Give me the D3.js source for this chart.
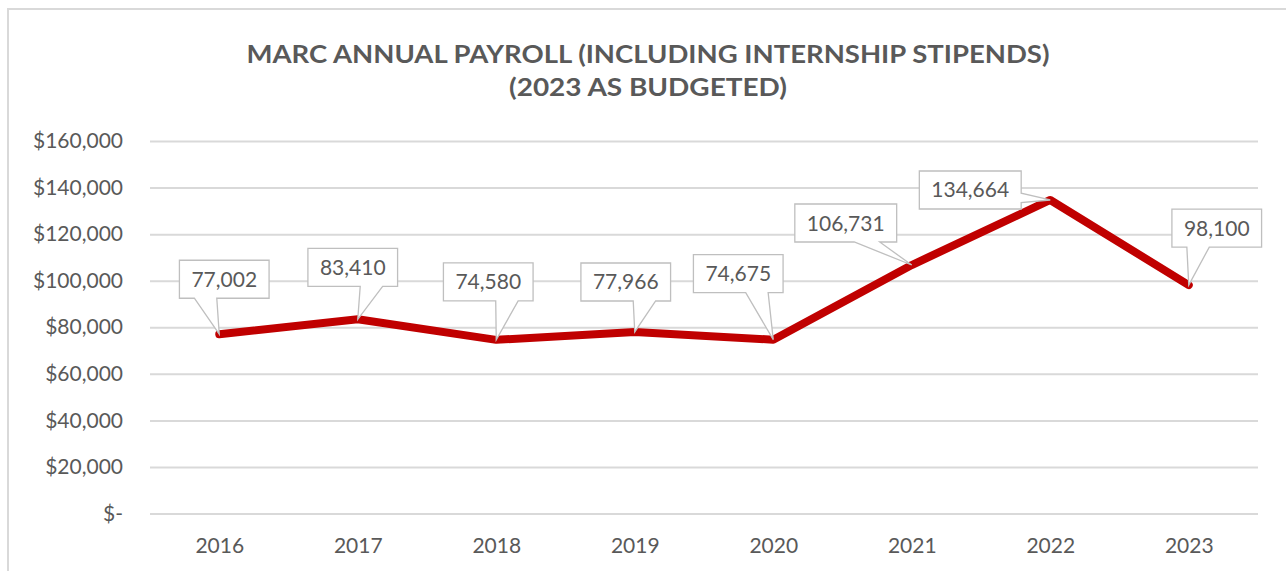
<!DOCTYPE html>
<html>
<head>
<meta charset="utf-8">
<script src="https://cdn.jsdelivr.net/npm/d3@7"></script>
<style>
  html, body { margin: 0; padding: 0; background: #fff; }
  svg { display: block; }
  text { font-family: Lato, "Liberation Sans", sans-serif; fill: #595959; }
</style>
</head>
<body>
<svg width="1286" height="571"></svg>
<script>
// payroll per year, 2023 is the budget figure
var years = ["2016", "2017", "2018", "2019", "2020", "2021", "2022", "2023"];
var payroll = [77002, 83410, 74580, 77966, 74675, 106731, 134664, 98100];
var yTicks = [0, 20000, 40000, 60000, 80000, 100000, 120000, 140000, 160000];
var titleLines = ["MARC ANNUAL PAYROLL (INCLUDING INTERNSHIP STIPENDS)", "(2023 AS BUDGETED)"];

// where each callout box sits relative to its point (layout only)
var calloutShift = [[5, -55], [-5, -52], [-8, -58], [-9, -50], [-35, -66], [-66, -42], [-80, -10], [28, -57]];

var svg = d3.select("svg"),
	width = +svg.attr("width"),
	height = +svg.attr("height");

// chart frame
svg.append("rect")
	.attr("x", 8).attr("y", 9)
	.attr("width", width + 20).attr("height", height + 20)
	.attr("fill", "#fff")
	.attr("stroke", "#d9d9d9")
	.attr("stroke-width", 2);

var x = d3.scalePoint().domain(years).range([150, 1258]).padding(0.5);
var y = d3.scaleLinear().domain([0, 160000]).range([513.5, 141]);

// title
svg.selectAll(".title")
	.data(titleLines)
	.enter().append("text")
	.attr("class", "title")
	.attr("x", 648)
	.attr("y", function(d, i) { return 63 + i * 33; })
	.attr("text-anchor", "middle")
	.attr("textLength", function(d, i) { return i == 0 ? 803 : 278; })
	.attr("lengthAdjust", "spacingAndGlyphs")
	.style("font-size", "25px")
	.style("font-weight", "bold")
	.text(function(d) { return d; });

// gridlines + y labels
var fmt = d3.format(",");
var yAxis = d3.axisLeft(y)
	.tickValues(yTicks)
	.tickSize(-(1258 - 150))
	.tickPadding(27)
	.tickFormat(function(d) { return d == 0 ? "$-" : "$" + fmt(d); });

var gy = svg.append("g").attr("transform", "translate(150,0)").call(yAxis);
gy.select(".domain").remove();
gy.selectAll(".tick line").attr("stroke", "#d9d9d9").attr("stroke-width", 2);
gy.selectAll(".tick text")
	.attr("fill", "#595959")
	.style("font-size", "21px")
	.style("font-family", "Lato, 'Liberation Sans', sans-serif");

// x labels
var xAxis = d3.axisBottom(x).tickSize(0).tickPadding(0);
var gx = svg.append("g").attr("transform", "translate(0,513.5)").call(xAxis);
gx.select(".domain").remove();
gx.selectAll(".tick text")
	.attr("dy", null)
	.attr("y", 39)
	.attr("fill", "#595959")
	.style("font-size", "21px")
	.style("font-family", "Lato, 'Liberation Sans', sans-serif");

// the series line
var line = d3.line()
	.x(function(d, i) { return x(years[i]); })
	.y(function(d) { return y(d); });

svg.append("path")
	.datum(payroll)
	.attr("d", line)
	.attr("fill", "none")
	.attr("stroke", "#c00000")
	.attr("stroke-width", 8)
	.attr("stroke-linecap", "round")
	.attr("stroke-linejoin", "round");

// callout path like Office "wedgeRectCallout"
function calloutPath(l, t, w, h, px, py) {
	var r = l + w, b = t + h, cx = l + w / 2, cy = t + h / 2;
	var dx = px - cx, dy = py - cy;
	var dq = dx * h / w;
	var p = "M" + l + "," + t;
	if (Math.abs(dq) > Math.abs(dy)) {
		var y1 = dy > 0 ? t + h * 7 / 12 : t + h * 2 / 12,
			y2 = dy > 0 ? t + h * 10 / 12 : t + h * 5 / 12;
		if (dx > 0) {
			p += "L" + r + "," + t + "L" + r + "," + y1 + "L" + px + "," + py + "L" + r + "," + y2
				+ "L" + r + "," + b + "L" + l + "," + b + "Z";
		} else {
			p += "L" + r + "," + t + "L" + r + "," + b + "L" + l + "," + b
				+ "L" + l + "," + y2 + "L" + px + "," + py + "L" + l + "," + y1 + "Z";
		}
	} else {
		var x1 = dx > 0 ? l + w * 7 / 12 : l + w * 2 / 12,
			x2 = dx > 0 ? l + w * 10 / 12 : l + w * 5 / 12;
		if (dy > 0) {
			p += "L" + r + "," + t + "L" + r + "," + b + "L" + x2 + "," + b + "L" + px + "," + py
				+ "L" + x1 + "," + b + "L" + l + "," + b + "Z";
		} else {
			p += "L" + x1 + "," + t + "L" + px + "," + py + "L" + x2 + "," + t + "L" + r + "," + t
				+ "L" + r + "," + b + "L" + l + "," + b + "Z";
		}
	}
	return p;
}

var labels = svg.selectAll(".callout")
	.data(payroll)
	.enter().append("g")
	.attr("class", "callout");

labels.each(function(d, i) {
	var g = d3.select(this);
	var px = x(years[i]), py = y(d);
	var cx = px + calloutShift[i][0], cy = py + calloutShift[i][1];
	var box = g.append("path");
	var txt = g.append("text")
		.attr("x", cx)
		.attr("y", cy + 7.5)
		.attr("text-anchor", "middle")
		.style("font-size", "21px")
		.text(fmt(d));
	var w = txt.node().getComputedTextLength() + 24, h = 38;
	box.attr("d", calloutPath(cx - w / 2, cy - h / 2, w, h, px, py))
		.attr("fill", "#fff")
		.attr("stroke", "#bfbfbf")
		.attr("stroke-width", 1.3);
});
</script>
</body>
</html>
